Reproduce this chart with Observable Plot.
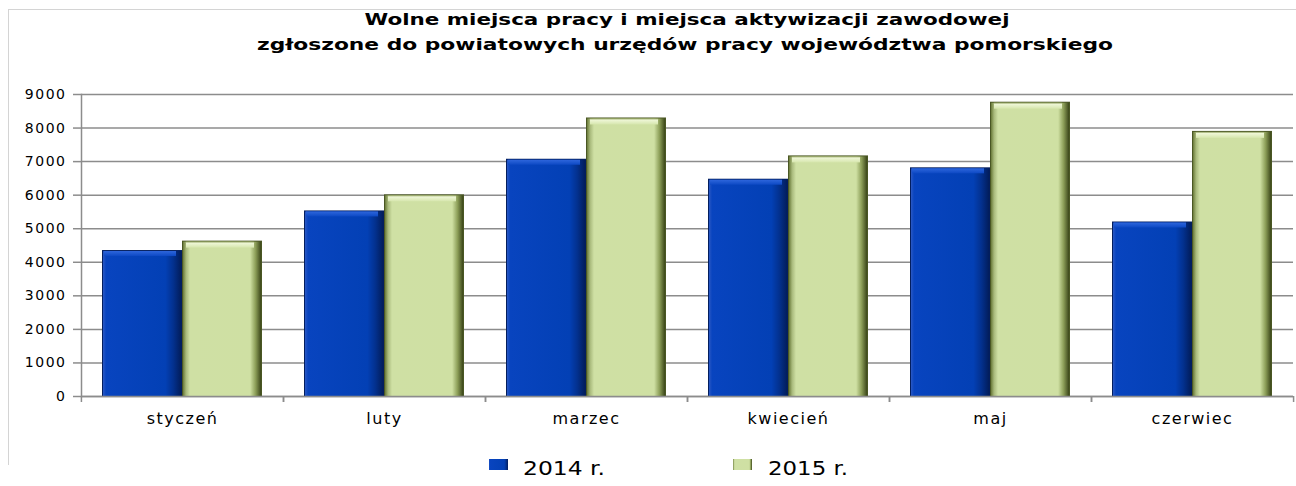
<!DOCTYPE html>
<html>
<head>
<meta charset="utf-8">
<script src="https://cdn.jsdelivr.net/npm/d3@7"></script>
<script src="https://cdn.jsdelivr.net/npm/@observablehq/plot@0.6"></script>
<style>
  html, body { margin: 0; padding: 0; background: #fff; }
  body { width: 1296px; height: 486px; overflow: hidden; position: relative; font-family: "DejaVu Sans", Verdana, sans-serif; }
  #frame { position: absolute; left: 8px; top: 9px; width: 1300px; height: 456px; border-top: 1px solid #d4d4d4; border-left: 1px solid #d4d4d4; box-sizing: border-box; }
  #title { position: absolute; left: 0; top: 0; }
  #chart { position: absolute; left: 0; top: 60px; }
  #legend { position: absolute; left: 0; top: 440px; }
  g[aria-label="y-axis tick label"] text { letter-spacing: 1.5px; }
  g[aria-label="fx-axis tick label"] text { letter-spacing: 1.5px; }
</style>
</head>
<body>
<svg width="0" height="0" style="position:absolute">
  <defs>
    <linearGradient id="g14" x1="0" x2="1" y1="0" y2="0">
      <stop offset="0" stop-color="#2a58c4"/>
      <stop offset="0.04" stop-color="#0844bf"/>
      <stop offset="0.80" stop-color="#0340b5"/>
      <stop offset="0.90" stop-color="#03318f"/>
      <stop offset="1" stop-color="#021d5c"/>
    </linearGradient>
    <linearGradient id="g14top" x1="0" x2="0" y1="0" y2="1">
      <stop offset="0" stop-color="#2e66dc"/>
      <stop offset="1" stop-color="#0d49c4"/>
    </linearGradient>
    <linearGradient id="g15" x1="0" x2="1" y1="0" y2="0">
      <stop offset="0" stop-color="#6a7a3a"/>
      <stop offset="0.04" stop-color="#a9ba7c"/>
      <stop offset="0.09" stop-color="#cfe0a4"/>
      <stop offset="0.86" stop-color="#cfe0a3"/>
      <stop offset="0.93" stop-color="#8c9e58"/>
      <stop offset="1" stop-color="#3c471a"/>
    </linearGradient>
    <linearGradient id="g15top" x1="0" x2="0" y1="0" y2="1">
      <stop offset="0" stop-color="#8c9c58"/>
      <stop offset="0.25" stop-color="#eef6d6"/>
      <stop offset="1" stop-color="#d6e6ad"/>
    </linearGradient>
  </defs>
</svg>
<div id="frame"></div>
<div id="title"></div>
<div id="chart"></div>
<div id="legend"></div>
<script>
const titleLines = [
  "Wolne miejsca pracy i miejsca aktywizacji zawodowej",
  "zgłoszone do powiatowych urzędów pracy województwa pomorskiego"
];
const months = ["styczeń", "luty", "marzec", "kwiecień", "maj", "czerwiec"];
const seriesNames = ["2014 r.", "2015 r."];
const values2014 = [4350, 5530, 7070, 6475, 6815, 5200];
const values2015 = [4630, 6010, 8300, 7170, 8770, 7900];
const yTicks = [0, 1000, 2000, 3000, 4000, 5000, 6000, 7000, 8000, 9000];

const data = months.flatMap((m, i) => [
  {month: m, series: seriesNames[0], value: values2014[i]},
  {month: m, series: seriesNames[1], value: values2015[i]}
]);
const d14 = data.filter(d => d.series === seriesNames[0]);
const d15 = data.filter(d => d.series === seriesNames[1]);

const ns = "http://www.w3.org/2000/svg";
// Title
const tsvg = document.createElementNS(ns, "svg");
tsvg.setAttribute("width", 1296); tsvg.setAttribute("height", 60);
const tSpec = [{x: 687, y: 25, len: 645}, {x: 685, y: 50, len: 856}];
titleLines.forEach((t, i) => {
  const el = document.createElementNS(ns, "text");
  el.setAttribute("x", tSpec[i].x); el.setAttribute("y", tSpec[i].y);
  el.setAttribute("text-anchor", "middle");
  el.setAttribute("font-family", "DejaVu Sans, Verdana, sans-serif");
  el.setAttribute("font-weight", "bold");
  el.setAttribute("font-size", 16);
  el.setAttribute("textLength", tSpec[i].len);
  el.setAttribute("lengthAdjust", "spacingAndGlyphs");
  el.textContent = t;
  tsvg.appendChild(el);
});
document.getElementById("title").appendChild(tsvg);

const gridColor = "#8c8c8c";
const barCommon = {fx: "month", x: "series", y: "value"};

const chart = Plot.plot({
  width: 1296,
  height: 376,
  marginLeft: 80,
  marginRight: 3,
  marginTop: 34,
  marginBottom: 40,
  style: {fontFamily: "DejaVu Sans, Verdana, sans-serif", color: "#000", background: "transparent"},
  fx: {domain: months, padding: 0, label: null, axis: null},
  x: {domain: seriesNames, paddingInner: 0, paddingOuter: 0.247, axis: null},
  y: {domain: [0, 9000], axis: null, label: null},
  marks: [
    Plot.gridY(yTicks, {stroke: gridColor, strokeOpacity: 1, strokeWidth: 1.5}),
    // 2014 bars (bevelled blue)
    Plot.barY(d14, {...barCommon, fill: "#031e5e"}),
    Plot.barY(d14, {...barCommon, fill: "url(#g14)", insetTop: 1, insetLeft: 1, insetRight: 1}),
    Plot.barY(d14, {...barCommon, y1: "value", y2: "value", y: undefined, fill: "url(#g14top)", insetTop: 1, insetBottom: -6, insetLeft: 2, insetRight: 6}),
    // 2015 bars (bevelled green)
    Plot.barY(d15, {...barCommon, fill: "#4a5724"}),
    Plot.barY(d15, {...barCommon, fill: "url(#g15)", insetTop: 1, insetLeft: 1, insetRight: 1}),
    Plot.barY(d15, {...barCommon, y1: "value", y2: "value", y: undefined, fill: "url(#g15top)", insetTop: 1, insetBottom: -7, insetLeft: 4, insetRight: 8}),
    // axis lines
    Plot.frame({anchor: "left", facet: "super", stroke: gridColor, strokeWidth: 1.5}),
    Plot.ruleY([0], {stroke: gridColor, strokeWidth: 1.5}),
    Plot.axisY(yTicks, {anchor: "left", tickSize: 8, tickPadding: 7, tickFormat: d => String(d), fontSize: 14, stroke: gridColor, strokeWidth: 1.5, fill: "#000", label: null}),
    Plot.axisFx({anchor: "bottom", tickSize: 0, tickPadding: 16, fontSize: 16, fill: "#000", label: null}),
    Plot.axisFx({anchor: "bottom", tickSize: 6, tickFormat: () => "", dx: -101.08, stroke: gridColor, strokeWidth: 1.5, label: null}),
    Plot.axisFx([months[months.length - 1]], {anchor: "bottom", tickSize: 6, tickFormat: () => "", dx: 101.08, stroke: gridColor, strokeWidth: 1.5, label: null})
  ]
});
document.getElementById("chart").appendChild(chart);

// Legend
const lsvg = document.createElementNS(ns, "svg");
lsvg.setAttribute("width", 1296); lsvg.setAttribute("height", 46);
const lSpec = [{sx: 489, tx: 523, len: 82, fill: "url(#g14)"}, {sx: 733, tx: 768, len: 80, fill: "url(#g15)"}];
seriesNames.forEach((s, i) => {
  const r = document.createElementNS(ns, "rect");
  r.setAttribute("x", lSpec[i].sx); r.setAttribute("y", 19);
  r.setAttribute("width", 19); r.setAttribute("height", 11);
  r.setAttribute("fill", lSpec[i].fill);
  lsvg.appendChild(r);
  const t = document.createElementNS(ns, "text");
  t.setAttribute("x", lSpec[i].tx); t.setAttribute("y", 35);
  t.setAttribute("font-family", "DejaVu Sans, Verdana, sans-serif");
  t.setAttribute("font-size", 19);
  t.setAttribute("textLength", lSpec[i].len);
  t.setAttribute("lengthAdjust", "spacingAndGlyphs");
  t.textContent = s;
  lsvg.appendChild(t);
});
document.getElementById("legend").appendChild(lsvg);
</script>
</body>
</html>
